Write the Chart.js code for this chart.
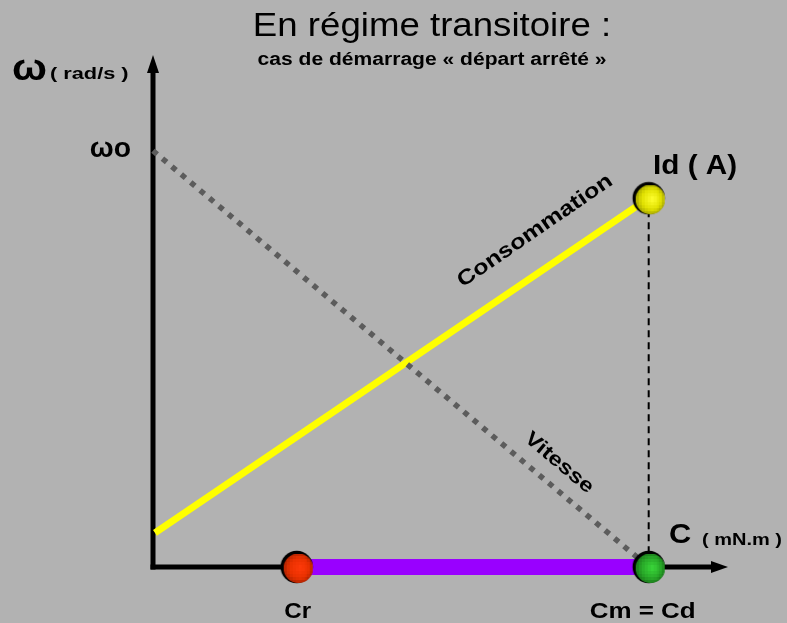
<!DOCTYPE html>
<html>
<head>
<meta charset="utf-8">
<script src="https://cdn.jsdelivr.net/npm/chart.js@4"></script>
<style>
  html, body { margin: 0; padding: 0; background: #b2b2b2; }
  canvas { display: block; }
</style>
</head>
<body>
<canvas id="demarrage" width="787" height="623"></canvas>
<script>
// couple C (mN.m) en abscisse, vitesse / courant en ordonnée (unités arbitraires)
const consommationC = [0.04, 10];
const consommationId = [0.82, 8.86];
const vitesseC = [0, 10];
const vitesseW = [10, 0];
const plageC = [2.9, 10];        // de Cr à Cm = Cd
const pointsC = [2.9, 10, 10];   // Cr, Cm = Cd, Id
const pointsY = [0, 0, 8.86];
const pointNames = ["Cr", "Cm = Cd", "Id ( A)"];

const FONT = '"Liberation Sans", Arial, sans-serif';

const toXY = (xs, ys) => xs.map((x, i) => ({ x: x, y: ys[i] }));

// petites billes "pixelisées" comme sur le schéma d'origine
const makeBall = (light, base, dark) => {
  const c = document.createElement("canvas");
  c.width = c.height = 36;
  const g = c.getContext("2d");
  g.fillStyle = "#000";
  g.beginPath();
  g.arc(18, 18, 16.2, 0, 2 * Math.PI);
  g.fill();

  const s = document.createElement("canvas");
  s.width = s.height = 10;
  const sg = s.getContext("2d");
  const grad = sg.createRadialGradient(5.6, 5, 0, 5, 5, 6.8);
  grad.addColorStop(0, light);
  grad.addColorStop(0.5, base);
  grad.addColorStop(1, dark);
  sg.fillStyle = grad;
  sg.fillRect(0, 0, 10, 10);

  g.save();
  g.beginPath();
  g.arc(19.6, 19.3, 14.8, 0, 2 * Math.PI);
  g.clip();
  g.imageSmoothingEnabled = false;
  g.drawImage(s, 4.8, 4.5, 29.6, 29.6);
  g.restore();
  return c;
};

const balls = [
  makeBall("#ff3a0a", "#e83000", "#7e1800"),
  makeBall("#3ad83a", "#28a828", "#105410"),
  makeBall("#ffff30", "#e0e000", "#767600"),
];

const text = (ctx, s, x, y, opts) => {
  const o = Object.assign({ size: 20, weight: "bold", align: "left", stretch: 1.15, angle: 0, baseline: "alphabetic" }, opts);
  ctx.save();
  ctx.translate(x, y);
  ctx.rotate(o.angle);
  ctx.scale(o.stretch, 1);
  ctx.font = `${o.weight} ${o.size}px ${FONT}`;
  ctx.textAlign = o.align;
  ctx.textBaseline = o.baseline;
  ctx.fillStyle = "#000";
  ctx.fillText(s, 0, 0);
  ctx.restore();
};

const schemaPlugin = {
  id: "schema",
  beforeDraw(chart) {
    const ctx = chart.ctx;
    ctx.save();
    ctx.fillStyle = "#b2b2b2";
    ctx.fillRect(0, 0, chart.width, chart.height);
    ctx.restore();
  },
  beforeDatasetsDraw(chart) {
    const ctx = chart.ctx;
    const xs = chart.scales.x, ys = chart.scales.y;
    const area = chart.chartArea;
    const x0 = xs.getPixelForValue(0);
    const y0 = ys.getPixelForValue(0);

    ctx.save();
    ctx.strokeStyle = "#000";
    ctx.fillStyle = "#000";
    ctx.lineWidth = 5;
    ctx.lineCap = "butt";
    // axe des vitesses
    ctx.beginPath();
    ctx.moveTo(x0, y0 + 2.5);
    ctx.lineTo(x0, area.top + 14);
    ctx.stroke();
    ctx.beginPath();
    ctx.moveTo(x0 - 6, area.top + 18);
    ctx.lineTo(x0 + 6, area.top + 18);
    ctx.lineTo(x0, area.top);
    ctx.closePath();
    ctx.fill();
    // axe des couples
    ctx.beginPath();
    ctx.moveTo(x0 - 2.5, y0);
    ctx.lineTo(area.right - 14, y0);
    ctx.stroke();
    ctx.beginPath();
    ctx.moveTo(area.right - 17, y0 - 6);
    ctx.lineTo(area.right - 17, y0 + 6);
    ctx.lineTo(area.right, y0);
    ctx.closePath();
    ctx.fill();
    ctx.restore();
  },
  afterDraw(chart) {
    const ctx = chart.ctx;
    const xs = chart.scales.x, ys = chart.scales.y;
    const x0 = xs.getPixelForValue(0);
    const yW0 = ys.getPixelForValue(vitesseW[0]);
    const yBase = ys.getPixelForValue(0);

    text(ctx, "En régime transitoire :", 432, 36, { size: 33, weight: "normal", align: "center", stretch: 1.11 });
    text(ctx, "cas de démarrage « départ arrêté »", 432, 65, { size: 18, align: "center", stretch: 1.17 });

    text(ctx, "ω", 12, 80, { size: 36, stretch: 1.15 });
    text(ctx, "( rad/s )", 50, 79, { size: 17, stretch: 1.28 });
    text(ctx, "ωo", x0 - 22, yW0 + 6, { size: 27, align: "right", stretch: 1.05 });

    text(ctx, pointNames[2], 653, 174, { size: 27, stretch: 1.1 });
    text(ctx, "C", 669, 543, { size: 28, stretch: 1.1 });
    text(ctx, "( mN.m )", 702, 545, { size: 16, stretch: 1.25 });

    text(ctx, pointNames[0], xs.getPixelForValue(pointsC[0]) + 1, yBase + 51, { size: 22, align: "center", stretch: 1.1 });
    text(ctx, pointNames[1], xs.getPixelForValue(pointsC[1]) - 6, yBase + 51, { size: 22, align: "center", stretch: 1.18 });

    text(ctx, "Consommation", 535, 231, { size: 21, align: "center", baseline: "middle", stretch: 1.2, angle: -34.5 * Math.PI / 180 });
    text(ctx, "Vitesse", 559, 463, { size: 20, align: "center", baseline: "middle", stretch: 1.2, angle: 40 * Math.PI / 180 });
  },
};

new Chart(document.getElementById("demarrage").getContext("2d"), {
  type: "scatter",
  data: {
    datasets: [
      {
        label: "points",
        data: toXY(pointsC, pointsY),
        pointStyle: balls,
        pointRadius: 17,
        showLine: false,
        clip: false,
        order: 1,
      },
      {
        label: "Cr - Cm",
        data: toXY(plageC, [0, 0]),
        showLine: true,
        borderColor: "#9900ff",
        borderWidth: 16,
        borderCapStyle: "butt",
        pointRadius: 0,
        clip: false,
        order: 2,
      },
      {
        label: "Cd",
        data: toXY([pointsC[2], pointsC[2]], [pointsY[2], 0]),
        showLine: true,
        borderColor: "#000",
        borderWidth: 2,
        borderDash: [7, 5],
        borderCapStyle: "butt",
        pointRadius: 0,
        clip: false,
        order: 3,
      },
      {
        label: "Vitesse",
        data: toXY(vitesseC, vitesseW),
        showLine: true,
        borderColor: "#5c5c5c",
        borderWidth: 5.5,
        borderDash: [5.5, 6.8],
        borderCapStyle: "butt",
        pointRadius: 0,
        clip: false,
        order: 4,
      },
      {
        label: "Consommation",
        data: toXY(consommationC, consommationId),
        showLine: true,
        borderColor: "#ffff00",
        borderWidth: 7,
        borderCapStyle: "butt",
        pointRadius: 0,
        clip: false,
        order: 5,
      },
    ],
  },
  options: {
    responsive: false,
    animation: false,
    events: [],
    layout: { padding: { left: 153, top: 55, right: 59, bottom: 56 } },
    plugins: {
      legend: { display: false },
      title: { display: false },
      tooltip: { enabled: false },
    },
    scales: {
      x: { type: "linear", min: 0, max: 11.6, display: false },
      y: { type: "linear", min: 0, max: 12.3, display: false },
    },
  },
  plugins: [schemaPlugin],
});
</script>
</body>
</html>
